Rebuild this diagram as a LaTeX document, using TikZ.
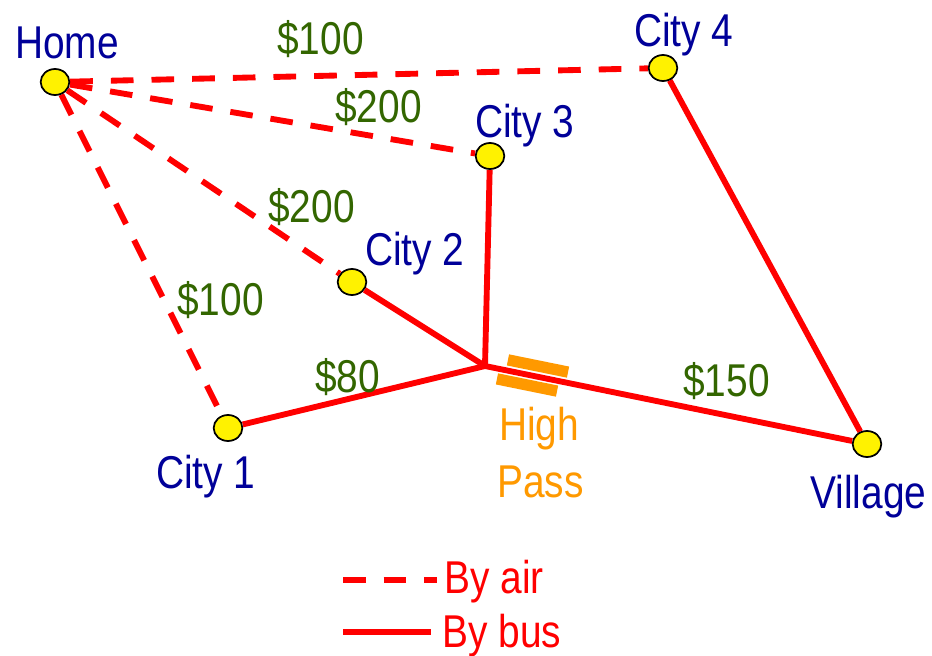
\documentclass[tikz,border=0pt]{standalone}
\usepackage{fontspec}
\setmainfont{Liberation Sans}[FakeStretch=0.845]
\usetikzlibrary{shapes.geometric}
\pgfdeclarelayer{background}
\pgfsetlayers{background,main}
\definecolor{cityblue}{HTML}{000099}
\definecolor{pricegreen}{HTML}{336600}
\definecolor{passorange}{HTML}{FF9900}
\definecolor{roadred}{HTML}{FF0000}
\begin{document}
\begin{tikzpicture}[x=0.75pt,y=-0.75pt,
  city/.style={ellipse,draw=black,line width=1.3pt,fill=yellow,minimum width=21.5pt,minimum height=19.5pt,inner sep=0pt},
  labeltext/.style={anchor=base west,inner sep=0pt,font=\fontsize{34.5}{40}\selectfont},
  cityname/.style={labeltext,text=cityblue},
  price/.style={labeltext,text=pricegreen},
  passtext/.style={labeltext,text=passorange},
  legendtext/.style={labeltext,text=roadred},
  air/.style={draw=roadred,line width=4.4pt,dash pattern=on 17pt off 13.5pt},
  bus/.style={draw=roadred,line width=4.4pt},
  passbar/.style={fill=passorange,draw=none,minimum width=46pt,minimum height=8.5pt,inner sep=0pt,rotate=-11.5}
]
\useasboundingbox (0,0) rectangle (932,656);
% cities
\node[city] (home) at (55,82) {};
\node[city] (c4) at (663,68) {};
\node[city] (c3) at (490,156) {};
\node[city] (c2) at (352,282) {};
\node[city] (c1) at (228,428) {};
\node[city] (vil) at (867,444) {};
\coordinate (J) at (485,366);
% high pass bars
\node[passbar] (pb1) at (538,366) {};
\node[passbar] (pb2) at (527,385) {};
% routes (behind nodes)
\begin{pgfonlayer}{background}
\draw[air] (home) -- (c4);
\draw[air] (home) -- (c3);
\draw[air] (home) -- (c2);
\draw[air] (home) -- (c1);
\draw[bus] (c1) -- (J);
\draw[bus] (c2) -- (J);
\draw[bus] (c3) -- (J);
\draw[bus] (J) -- (vil);
\draw[bus] (c4) -- (vil);
\end{pgfonlayer}
% labels
\node[cityname] (lhome) at (15,59) {Home};
\node[cityname] (lc4) at (634,47) {City 4};
\node[cityname] (lc3) at (475,138) {City 3};
\node[cityname] (lc2) at (365,265) {City 2};
\node[cityname] (lc1) at (156,488) {City 1};
\node[cityname] (lvil) at (810,508) {Village};
\node[price] (p1) at (277,55) {\$100};
\node[price] (p2) at (335,123) {\$200};
\node[price] (p3) at (268,223) {\$200};
\node[price] (p4) at (177,315) {\$100};
\node[price] (p5) at (315,392) {\$80};
\node[price] (p6) at (683,396) {\$150};
\node[passtext] (high) at (499,440) {High};
\node[passtext] (pass) at (497,497) {Pass};
% legend
\coordinate (la1) at (343,580);
\coordinate (la2) at (437,580);
\coordinate (lb1) at (343,632);
\coordinate (lb2) at (431,632);
\draw[air] (la1) -- (la2);
\draw[bus] (lb1) -- (lb2);
\node[legendtext] (byair) at (444,593) {By air};
\node[legendtext] (bybus) at (442,647) {By bus};
\end{tikzpicture}
\end{document}
